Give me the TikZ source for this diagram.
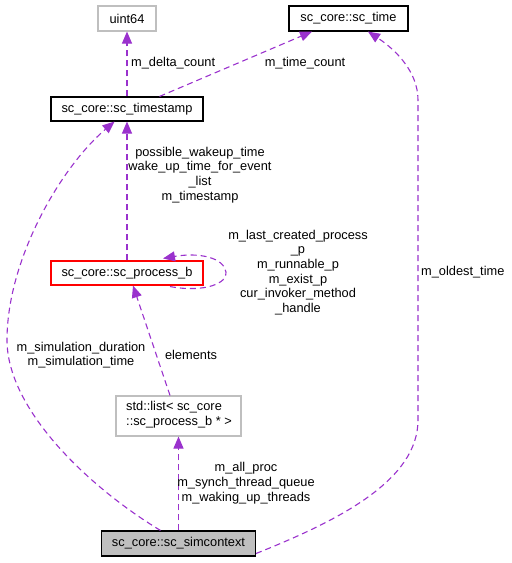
\documentclass[tikz,border=0pt]{standalone}
\usepackage{fontspec}
\setmainfont{Liberation Sans}
\usetikzlibrary{arrows.meta}
\definecolor{edgecol}{RGB}{154,50,205}
\definecolor{graybd}{RGB}{191,191,191}
\definecolor{simfill}{RGB}{191,191,191}
\begin{document}
\begin{tikzpicture}[x=1pt,y=-1pt,
  every node/.style={font=\fontsize{12.8}{14.7}\selectfont, inner sep=0pt},
  cls/.style={draw=black, line width=1.1pt, rectangle},
  ext/.style={draw=graybd, line width=1.1pt, rectangle},
  redcls/.style={draw=red, line width=1.1pt, rectangle},
  simcls/.style={draw=black, fill=simfill, line width=1.1pt, rectangle},
  rel/.style={draw=edgecol, line width=1.1pt, dash pattern=on 6pt off 4pt,
    -{Triangle[length=12pt,width=10pt]}},
  lbl/.style={align=center, text=black}
]
\useasboundingbox (0,0) rectangle (512,563);

\node[ext, minimum width=58pt, minimum height=25pt] (u64) at (127,18.5) {uint64};
\node[cls, minimum width=152pt, minimum height=24pt] (ts) at (127,109) {sc\_core::sc\_timestamp};
\node[cls, minimum width=119pt, minimum height=25pt] (time) at (348.5,18.5) {sc\_core::sc\_time};
\node[redcls, minimum width=152pt, minimum height=24pt] (pb) at (127,273) {sc\_core::sc\_process\_b};
\node[ext, minimum width=125pt, minimum height=40pt] (lst) at (178.5,416) {};
\node[anchor=north west, align=left] (lsttxt) at (126,401) {std::list<\ sc\_core\\::sc\_process\_b * >};
\node[simcls, minimum width=154pt, minimum height=25pt] (sim) at (178.5,543.5) {sc\_core::sc\_simcontext};

% timestamp -> uint64
\draw[rel] (ts.north -| u64.south) -- (u64.south);
\node[lbl, anchor=west] (l1) at (131,63) {m\_delta\_count};

% timestamp -> sc_time
\coordinate (tsA) at ([xshift=32.5pt]ts.north);
\coordinate (tmA) at ([xshift=-36.5pt]time.south);
\draw[rel] (tsA) -- (tmA);
\node[lbl] (l2) at (305,63) {m\_time\_count};

% process_b -> timestamp
\draw[rel] (pb.north -| ts.south) -- (ts.south);
\node[lbl] (l3) at (200,175) {possible\_wakeup\_time\\wake\_up\_time\_for\_event\\\_list\\m\_timestamp};

% self loop on process_b
\coordinate (pbA) at ([xshift=43pt,yshift=-1pt]pb.south);
\coordinate (pbB) at ([xshift=36pt,yshift=2pt]pb.north);
\draw[rel] (pbA) .. controls (205,293) and (228,283) .. (226,272)
  .. controls (224,258) and (200,252) .. (pbB);
\node[lbl] (l4) at (298,272.5) {m\_last\_created\_process\\\_p\\m\_runnable\_p\\m\_exist\_p\\cur\_invoker\_method\\\_handle};

% list -> process_b
\coordinate (lsA) at ([xshift=-8.5pt]lst.north);
\coordinate (pbC) at ([xshift=6pt]pb.south);
\draw[rel] (lsA) -- (pbC);
\node[lbl] (l5) at (191,354.5) {elements};

% simcontext -> timestamp
\coordinate (smA) at ([xshift=-18pt]sim.north);
\coordinate (tsB) at ([xshift=-12.5pt]ts.south);
\draw[rel] (smA) .. controls (90,488) and (7,410) .. (7,340)
  .. controls (7,260) and (60,168) .. (tsB);
\node[lbl] (l6) at (81,355) {m\_simulation\_duration\\m\_simulation\_time};

% simcontext -> list
\draw[rel] (sim.north) -- (lst.south -| sim.north);
\node[lbl] (l7) at (246,483) {m\_all\_proc\\m\_synch\_thread\_queue\\m\_waking\_up\_threads};

% simcontext -> sc_time
\coordinate (smB) at ([yshift=-10pt]sim.east);
\coordinate (tmB) at ([xshift=19.5pt]time.south);
\draw[rel] (smB) .. controls (340,520) and (418,480) .. (418,420)
  -- (418,100) .. controls (418,72) and (396,50) .. (tmB);
\node[lbl, anchor=west] (l8) at (421,272.5) {m\_oldest\_time};
\end{tikzpicture}
\end{document}
